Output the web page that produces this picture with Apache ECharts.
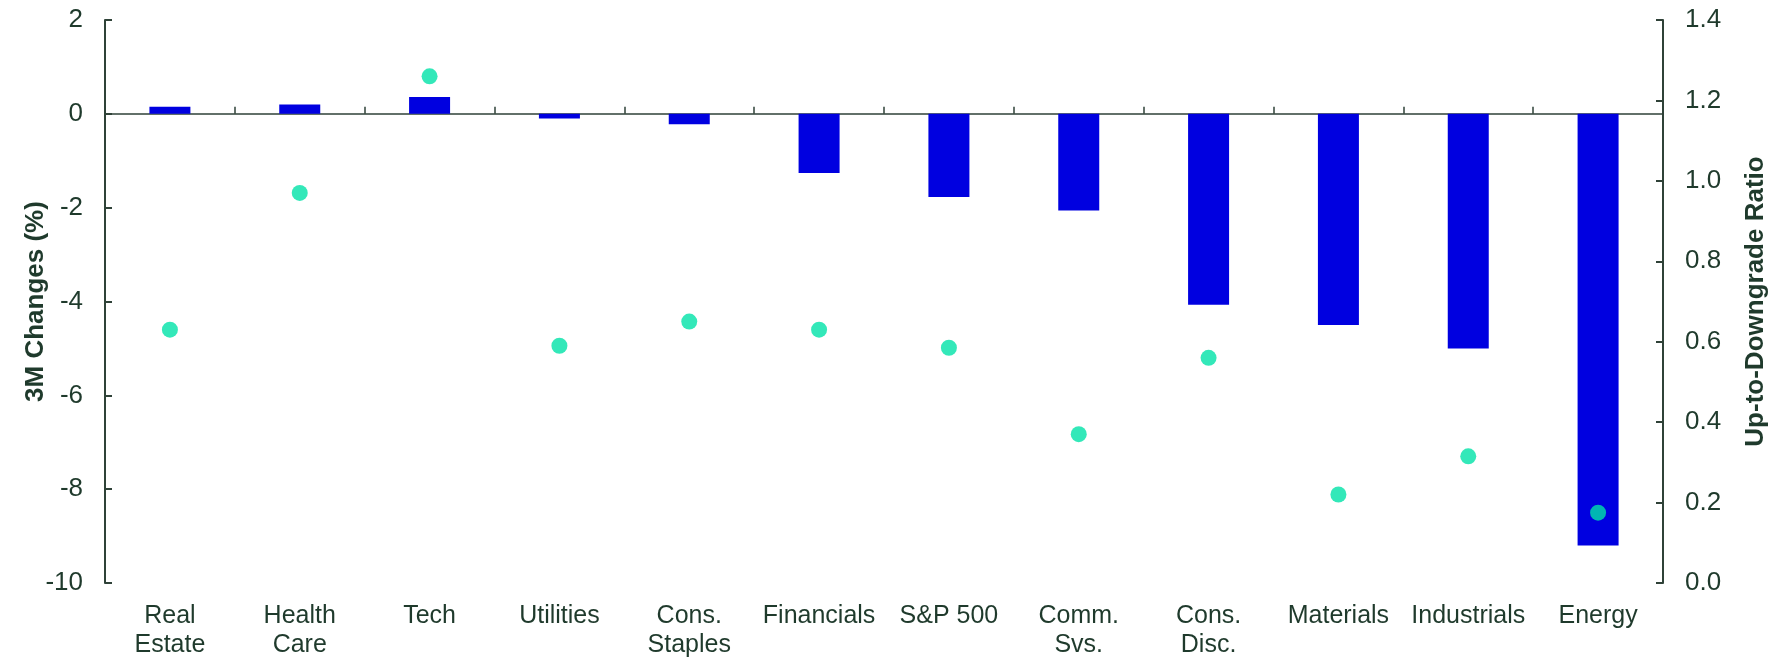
<!DOCTYPE html>
<html>
<head>
<meta charset="utf-8">
<script src="https://cdn.jsdelivr.net/npm/echarts@6/dist/echarts.min.js"></script>
<style>
  html, body { margin: 0; padding: 0; background: #fff; }
  #chart { width: 1777px; height: 660px; }
</style>
</head>
<body>
<div id="chart"></div>
<script>
// 行业分类
var sectors = ['Real\nEstate', 'Health\nCare', 'Tech', 'Utilities', 'Cons.\nStaples', 'Financials',
  'S&P 500', 'Comm.\nSvs.', 'Cons.\nDisc.', 'Materials', 'Industrials', 'Energy'];
// 3个月变化 (%)
var changes3m = [0.15, 0.2, 0.36, -0.1, -0.22, -1.26, -1.77, -2.06, -4.07, -4.5, -5.0, -9.2];
// 上调/下调比率
var upDownRatio = [0.63, 0.97, 1.26, 0.59, 0.65, 0.63, 0.585, 0.37, 0.56, 0.22, 0.315, 0.175];

var textColor = '#1f3a2c';
var lineColor = '#2f4238';
var fontFamily = '"Liberation Sans", Arial, sans-serif';

var chart = echarts.init(document.getElementById('chart'));

var option = {
  animation: false,
  textStyle: { fontFamily: fontFamily },
  grid: {
    left: 105,
    right: 114,
    top: 20,
    bottom: 77
  },
  xAxis: [
    {
      // 底部标签
      type: 'category',
      data: sectors,
      position: 'bottom',
      axisLine: { show: false },
      axisTick: { show: false },
      axisLabel: {
        color: textColor,
        fontSize: 25,
        lineHeight: 29,
        margin: 19,
        interval: 0,
        fontFamily: fontFamily
      }
    },
    {
      // 零线和刻度
      type: 'category',
      data: sectors,
      position: 'bottom',
      axisLine: { show: true, onZero: true, onZeroAxisIndex: 0, lineStyle: { color: lineColor, width: 1.5 } },
      axisTick: { show: true, inside: true, length: 7, lineStyle: { color: lineColor, width: 1.5 } },
      axisLabel: { show: false }
    }
  ],
  yAxis: [
    {
      type: 'value',
      min: -10,
      max: 2,
      interval: 2,
      name: '3M Changes (%)',
      nameLocation: 'middle',
      nameGap: 56,
      nameMoveOverlap: false,
      nameTextStyle: { color: textColor, fontSize: 26, fontWeight: 'bold', fontFamily: fontFamily },
      axisLine: { show: true, lineStyle: { color: lineColor, width: 2 } },
      axisTick: { show: true, inside: true, length: 7, lineStyle: { color: lineColor, width: 2 } },
      axisLabel: { color: textColor, fontSize: 26, margin: 22, fontFamily: fontFamily },
      splitLine: { show: false }
    },
    {
      type: 'value',
      min: 0,
      max: 1.4,
      interval: 0.2,
      position: 'right',
      name: 'Up-to-Downgrade Ratio',
      nameLocation: 'middle',
      nameGap: 80,
      nameRotate: 90,
      nameTextStyle: { color: textColor, fontSize: 26, fontWeight: 'bold', fontFamily: fontFamily },
      axisLine: { show: true, lineStyle: { color: lineColor, width: 2 } },
      axisTick: { show: true, inside: true, length: 7, lineStyle: { color: lineColor, width: 2 } },
      axisLabel: {
        color: textColor,
        fontSize: 26,
        margin: 22,
        fontFamily: fontFamily,
        formatter: function (v) { return v.toFixed(1); }
      },
      splitLine: { show: false }
    }
  ],
  series: [
    {
      name: '3M Changes',
      type: 'bar',
      xAxisIndex: 0,
      yAxisIndex: 0,
      data: changes3m,
      barWidth: 41,
      itemStyle: { color: '#0000e0' },
      z: 1
    },
    {
      name: 'Up-to-Downgrade Ratio',
      type: 'scatter',
      xAxisIndex: 0,
      yAxisIndex: 1,
      data: upDownRatio,
      symbolSize: 16,
      itemStyle: { color: '#00e2a8' },
      z: 3
    }
  ]
};

chart.setOption(option);
</script>
</body>
</html>
